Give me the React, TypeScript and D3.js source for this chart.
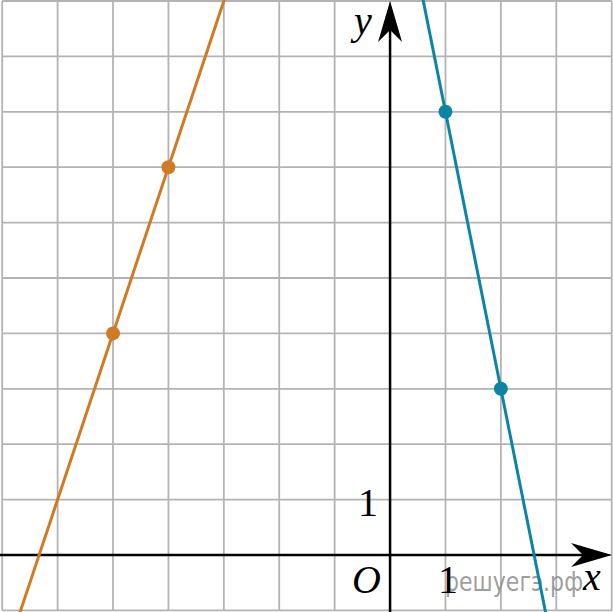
import React from "react";
import * as d3 from "d3";

const W = 613;
const H = 612;

const xDomain = [-7, 4];
const yDomain = [-1, 10];
const gridX = d3.range(-7, 5);
const gridY = d3.range(-1, 11);

// line 1: y = 3x + 19 (orange), line 2: y = -5x + 13 (blue)
const orangeLine = { k: 3, b: 19, color: "#d17a26" };
const blueLine = { k: -5, b: 13, color: "#0b84a6" };
const orangePoints = [
  [-5, 4],
  [-4, 7],
];
const bluePoints = [
  [1, 8],
  [2, 3],
];

export default function App() {
  const x = d3.scaleLinear().domain(xDomain).range([2.2, 611.7]);
  const y = d3.scaleLinear().domain(yDomain).range([610.4, 1]);
  const x0 = x(0);
  const y0 = y(0);

  const lineEnds = (l: { k: number; b: number }) => {
    const ya = -1.3;
    const yb = 10.3;
    return [
      [(ya - l.b) / l.k, ya],
      [(yb - l.b) / l.k, yb],
    ];
  };
  const lineGen = d3
    .line<number[]>()
    .x((d) => x(d[0]))
    .y((d) => y(d[1]));

  const serif = "'Liberation Serif', 'Times New Roman', serif";

  // arrowheads
  const yArrow = `M${x0},${1} L${x0 + 12},${42} L${x0},${30} L${x0 - 12},${42} Z`;
  const xArrow = `M${612},${y0} L${571},${y0 - 12} L${583},${y0} L${571},${y0 + 12} Z`;

  return (
    <svg
      width={W}
      height={H}
      style={{ position: "fixed", left: 0, top: 0, background: "#fff" }}
    >
      <rect x={0} y={0} width={W} height={H} fill="#fff" />
      <g stroke="#b3b3b3" strokeWidth={1.8}>
        {gridX.map((v) => (
          <line key={"gx" + v} x1={x(v)} x2={x(v)} y1={y(-1)} y2={y(10)} />
        ))}
        {gridY.map((v) => (
          <line key={"gy" + v} x1={x(-7)} x2={x(4)} y1={y(v)} y2={y(v)} />
        ))}
      </g>
      {/* axes */}
      <line x1={x0} x2={x0} y1={H} y2={25} stroke="#000" strokeWidth={2.5} />
      <line x1={0} x2={590} y1={y0} y2={y0} stroke="#000" strokeWidth={2.5} />
      <path d={yArrow} fill="#000" />
      <path d={xArrow} fill="#000" />

      {/* watermark */}
      <text
        x={445}
        y={591}
        fontFamily="'DejaVu Sans', sans-serif"
        fontSize={27}
        fill="#8c8c8c"
        fillOpacity={0.85}
        textLength={138}
        lengthAdjust="spacingAndGlyphs"
      >
        решуегэ.рф
      </text>

      {/* lines */}
      <path
        d={lineGen(lineEnds(orangeLine)) || ""}
        stroke={orangeLine.color}
        strokeWidth={3}
        fill="none"
      />
      <path
        d={lineGen(lineEnds(blueLine)) || ""}
        stroke={blueLine.color}
        strokeWidth={3}
        fill="none"
      />
      {orangePoints.map((p, i) => (
        <circle key={"o" + i} cx={x(p[0])} cy={y(p[1])} r={7} fill={orangeLine.color} />
      ))}
      {bluePoints.map((p, i) => (
        <circle key={"b" + i} cx={x(p[0])} cy={y(p[1])} r={7} fill={blueLine.color} />
      ))}

      {/* labels */}
      <text x={354} y={34} fontFamily={serif} fontStyle="italic" fontSize={40}>
        y
      </text>
      <text x={583} y={590} fontFamily={serif} fontStyle="italic" fontSize={40}>
        x
      </text>
      <text x={352} y={593} fontFamily={serif} fontStyle="italic" fontSize={40}>
        O
      </text>
      <text x={438} y={593} fontFamily={serif} fontSize={40}>
        1
      </text>
      <text x={358} y={516} fontFamily={serif} fontSize={40}>
        1
      </text>
    </svg>
  );
}
